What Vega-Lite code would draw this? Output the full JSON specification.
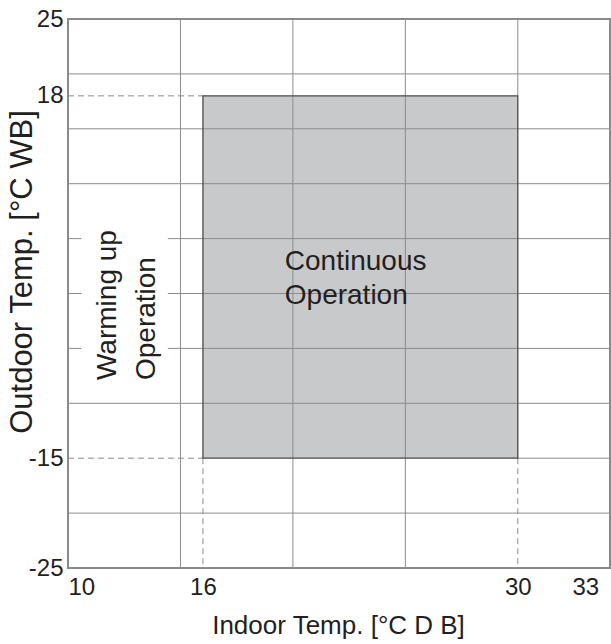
{
  "$schema": "https://vega.github.io/schema/vega-lite/v6.json",
  "width": 542,
  "height": 549,
  "autosize": {"type": "none"},
  "padding": {"left": 68, "top": 19, "right": 1, "bottom": 76},
  "background": "white",
  "config": {
    "view": {"stroke": "#8a8a8a", "strokeWidth": 2},
    "font": "Liberation Sans"
  },
  "datasets": {
    "region": [{"x": 16, "x2": 30, "y": -15, "y2": 18}],
    "grid": [
      {"x": 15, "x2": 15, "y": -25, "y2": 25},
      {"x": 20, "x2": 20, "y": -25, "y2": 25},
      {"x": 25, "x2": 25, "y": -25, "y2": 25},
      {"x": 30, "x2": 30, "y": 18, "y2": 25},
      {"x": 10, "x2": 34.1, "y": 20, "y2": 20},
      {"x": 10, "x2": 34.1, "y": 15, "y2": 15},
      {"x": 10, "x2": 34.1, "y": 10, "y2": 10},
      {"x": 10, "x2": 34.1, "y": 5, "y2": 5},
      {"x": 10, "x2": 34.1, "y": 0, "y2": 0},
      {"x": 10, "x2": 34.1, "y": -5, "y2": -5},
      {"x": 10, "x2": 34.1, "y": -10, "y2": -10},
      {"x": 30, "x2": 34.1, "y": -15, "y2": -15},
      {"x": 10, "x2": 34.1, "y": -20, "y2": -20}
    ],
    "dashed": [
      {"x": 10, "x2": 16, "y": 18, "y2": 18},
      {"x": 10, "x2": 16, "y": -15, "y2": -15},
      {"x": 16, "x2": 16, "y": -15, "y2": -25},
      {"x": 30, "x2": 30, "y": -15, "y2": -25}
    ],
    "mask": [{"x": 10.6, "x2": 14.44, "y": -8.8, "y2": 7.2}],
    "labelsH": [
      {"x": 19.64, "y": 2.14, "label": "Continuous"},
      {"x": 19.64, "y": -0.96, "label": "Operation"}
    ],
    "labelsV": [
      {"x": 12.13, "y": -7.88, "label": "Warming up"},
      {"x": 13.87, "y": -7.88, "label": "Operation"}
    ]
  },
  "layer": [
    {
      "data": {"name": "region"},
      "mark": {"type": "rect", "fill": "#c8c9cb", "strokeWidth": 0},
      "encoding": {
        "x": {
          "field": "x", "type": "quantitative",
          "scale": {"domain": [10, 34.1], "nice": false, "zero": false},
          "axis": {
            "values": [10, 16, 30, 33], "grid": false, "ticks": false, "domain": false,
            "labelFontSize": 24, "labelColor": "#231f20", "labelPadding": 7,
            "labelExpr": "toString(datum.value)",
            "title": "Indoor Temp. [°C D B]", "titleFontSize": 26, "titleFontWeight": "normal",
            "titleColor": "#231f20", "titleY": 65, "titleX": 270, "titleBaseline": "alphabetic"
          }
        },
        "x2": {"field": "x2"},
        "y": {
          "field": "y", "type": "quantitative",
          "scale": {"domain": [-25, 25], "nice": false, "zero": false},
          "axis": {
            "values": [-25, -15, 18, 25], "grid": false, "ticks": false, "domain": false,
            "labelFontSize": 24, "labelColor": "#231f20", "labelPadding": 5, "labelFlush": false,
            "labelExpr": "toString(datum.value)",
            "title": "Outdoor Temp. [°C WB]", "titleFontSize": 31, "titleFontWeight": "normal",
            "titleColor": "#231f20", "titleX": -37, "titleY": 252.5, "titleBaseline": "alphabetic"
          }
        },
        "y2": {"field": "y2"}
      }
    },
    {
      "data": {"name": "grid"},
      "mark": {"type": "rule", "stroke": "#8c8c8c", "strokeWidth": 1},
      "encoding": {
        "x": {"field": "x", "type": "quantitative"},
        "x2": {"field": "x2"},
        "y": {"field": "y", "type": "quantitative"},
        "y2": {"field": "y2"}
      }
    },
    {
      "data": {"name": "mask"},
      "mark": {"type": "rect", "fill": "white", "strokeWidth": 0},
      "encoding": {
        "x": {"field": "x", "type": "quantitative"},
        "x2": {"field": "x2"},
        "y": {"field": "y", "type": "quantitative"},
        "y2": {"field": "y2"}
      }
    },
    {
      "data": {"name": "dashed"},
      "mark": {"type": "rule", "stroke": "#8c8c8c", "strokeWidth": 1, "strokeDash": [6, 4]},
      "encoding": {
        "x": {"field": "x", "type": "quantitative"},
        "x2": {"field": "x2"},
        "y": {"field": "y", "type": "quantitative"},
        "y2": {"field": "y2"}
      }
    },
    {
      "data": {"name": "region"},
      "mark": {"type": "rect", "fillOpacity": 0, "stroke": "#4a4a4a", "strokeWidth": 1.3},
      "encoding": {
        "x": {"field": "x", "type": "quantitative"},
        "x2": {"field": "x2"},
        "y": {"field": "y", "type": "quantitative"},
        "y2": {"field": "y2"}
      }
    },
    {
      "data": {"name": "labelsH"},
      "mark": {"type": "text", "fontSize": 28, "align": "left", "baseline": "alphabetic", "color": "#231f20"},
      "encoding": {
        "x": {"field": "x", "type": "quantitative"},
        "y": {"field": "y", "type": "quantitative"},
        "text": {"field": "label"}
      }
    },
    {
      "data": {"name": "labelsV"},
      "mark": {"type": "text", "fontSize": 28, "angle": 270, "align": "left", "baseline": "alphabetic", "color": "#231f20"},
      "encoding": {
        "x": {"field": "x", "type": "quantitative"},
        "y": {"field": "y", "type": "quantitative"},
        "text": {"field": "label"}
      }
    }
  ]
}
